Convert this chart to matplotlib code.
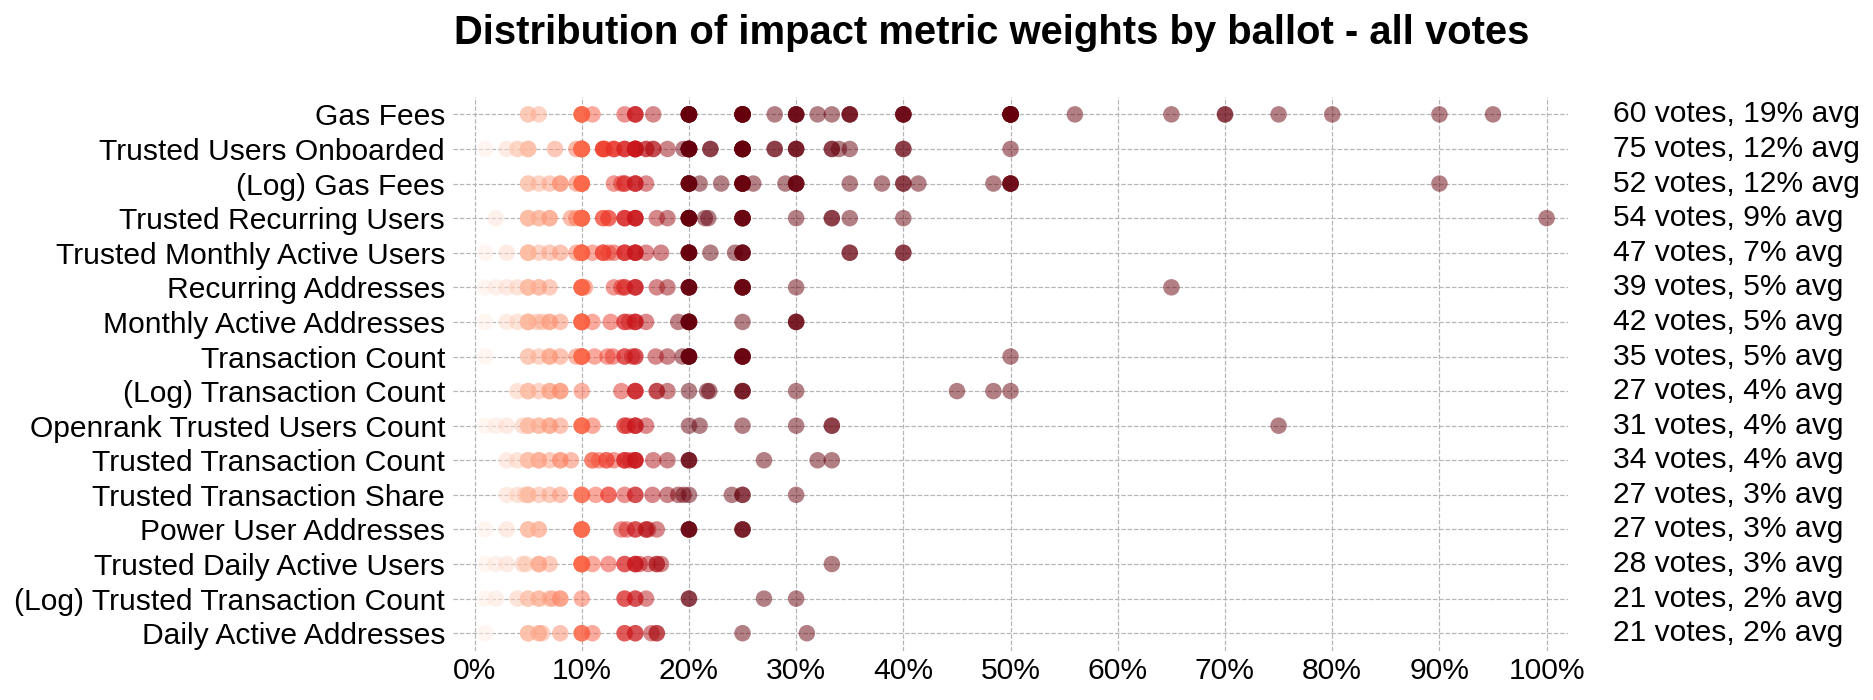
import matplotlib
matplotlib.use("Agg")
import matplotlib.pyplot as plt
from matplotlib.colors import Normalize
from matplotlib.ticker import PercentFormatter

plt.rcParams['font.family'] = ['Liberation Sans', 'DejaVu Sans']

# metric names, top to bottom
metrics = [
    'Gas Fees', 'Trusted Users Onboarded', '(Log) Gas Fees', 'Trusted Recurring Users',
    'Trusted Monthly Active Users', 'Recurring Addresses', 'Monthly Active Addresses',
    'Transaction Count', '(Log) Transaction Count', 'Openrank Trusted Users Count',
    'Trusted Transaction Count', 'Trusted Transaction Share', 'Power User Addresses',
    'Trusted Daily Active Users', '(Log) Trusted Transaction Count', 'Daily Active Addresses',
]

# average weight over all ballots (%), as printed on the right
avg_pct = [19, 12, 12, 9, 7, 5, 5, 5, 4, 4, 4, 3, 3, 3, 2, 2]

# weights (%) given on each ballot that voted for the metric
gas_fees = [5, 5, 6, 10, 10, 10, 10, 10, 11, 14, 15, 15, 15, 16.67,
            20, 20, 20, 20, 20, 20, 20, 20, 25, 25, 25, 25, 25, 25, 25, 25,
            28, 30, 30, 30, 30, 32, 33.33, 35, 35, 35, 40, 40, 40, 40,
            50, 50, 50, 50, 50, 50, 50, 50, 56, 65, 70, 70, 75, 80, 90, 95]
trusted_users_onboarded = [1, 3, 4, 4, 5, 5, 5, 7.5, 9.5,
                           10, 10, 10, 10, 10, 10, 10, 10, 10, 12, 12, 12, 12, 12.2,
                           13, 13, 13, 14, 14, 14, 15, 15, 15, 15, 15, 15, 15, 15,
                           16, 16, 16.67, 16.67, 18, 19.5,
                           20, 20, 20, 20, 20, 20, 20, 20, 20, 20, 22, 22,
                           25, 25, 25, 25, 25, 25, 25, 25, 28, 28, 30, 30, 30,
                           33.33, 33.33, 34, 35, 40, 40, 50]
log_gas_fees = [5, 5, 6, 7, 8, 8, 9.5, 10, 10, 10, 10, 10, 10, 13, 13.7, 14, 14,
                15, 15, 15, 16, 20, 20, 20, 20, 20, 20, 21, 23,
                25, 25, 25, 25, 25, 25, 26, 29, 30, 30, 30, 30, 35, 38, 40, 40,
                41.4, 48.4, 50, 50, 50, 50, 90]
trusted_recurring_users = [2, 5, 5, 5, 5, 6, 6, 7, 7, 9, 9.5,
                           10, 10, 10, 10, 10, 10, 10, 10, 10, 12, 12, 12.5, 12.5,
                           14, 14, 14, 15, 15, 15, 15, 17, 18,
                           20, 20, 20, 20, 20, 20, 20, 20, 21.5, 21.8,
                           25, 25, 25, 25, 25, 30, 33.33, 33.33, 35, 40, 100]
trusted_monthly_active_users = [1, 3, 5, 5, 5, 5, 6, 7, 8, 9.5,
                                10, 10, 10, 10, 10, 10, 11, 12, 12, 12, 12.5, 13,
                                14, 14, 14, 15, 15, 15, 15, 16, 17.4,
                                20, 20, 20, 20, 20, 20, 22, 24.3, 25, 25, 25, 25,
                                35, 35, 40, 40]
recurring_addresses = [1, 2, 3, 4, 5, 5, 5, 5, 6, 6, 7,
                       10, 10, 10, 10, 10, 10, 10.3, 13, 13.7, 14, 14, 15, 15, 15,
                       17, 18, 20, 20, 20, 20, 20, 25, 25, 25, 25, 25, 30, 65]
monthly_active_addresses = [1, 3, 4, 5, 5, 5, 5, 5, 5.8, 6.3, 7, 7, 8,
                            10, 10, 10, 10, 10, 10, 10, 10, 11, 12.7, 14, 14, 14.4,
                            15, 15, 15, 16, 19, 20, 20, 20, 20, 20, 20, 20,
                            25, 30, 30, 30]
transaction_count = [1, 5, 5, 6, 7, 7, 8, 9.5, 10, 10, 10, 10, 10,
                     11.2, 12.4, 12.9, 14, 14, 14.7, 15, 15, 16.9, 18, 19.4,
                     20, 20, 20, 20, 20, 25, 25, 25, 25, 25, 50]
log_transaction_count = [4, 5, 5, 5, 6, 7, 7, 8, 8, 10, 13.7, 15, 15, 15,
                         17, 17, 18, 20, 21.7, 21.9, 25, 25, 25, 30, 45, 48.4, 50]
openrank_trusted_users_count = [1, 2, 3, 4.5, 5, 5, 5, 6, 6, 7, 7, 8,
                                10, 10, 10, 10, 11, 14, 14, 14.3, 15, 15, 15, 16,
                                20, 21, 25, 30, 33.33, 33.33, 75]
trusted_transaction_count = [3, 4, 5, 5, 5, 6, 6, 6, 7, 8, 8, 9, 11, 11, 11.6,
                             12.3, 12.3, 13, 14, 14, 14, 14.5, 15, 15, 15, 15,
                             16.67, 18, 20, 20, 20, 27, 32, 33.33]
trusted_transaction_share = [3, 4, 4.7, 5, 5, 5, 6, 7, 8, 10, 10, 10, 11.3,
                             12.5, 12.5, 14, 15, 15, 16.6, 18, 19, 19.5, 20, 24,
                             25, 25, 30]
power_user_addresses = [1, 3, 5, 5, 5, 6, 6, 10, 10, 10, 10, 10, 13.7, 14.2,
                        15, 15, 16, 16, 16.2, 17, 20, 20, 20, 20, 25, 25, 25]
trusted_daily_active_users = [1, 2, 3, 4.5, 4.8, 6, 6, 6, 7, 10, 10, 10, 10, 10, 10,
                              11, 12.5, 14, 14, 15, 15, 15, 15.4, 16.2, 17, 17,
                              17.4, 33.33]
log_trusted_transaction_count = [1, 2, 4, 5, 5, 6, 6, 7, 7.3, 8, 8, 10, 14, 14,
                                 15, 15, 16, 20, 20, 27, 30]
daily_active_addresses = [1, 5, 5, 5, 6, 6, 6.3, 8, 10, 10, 10, 11, 14, 14,
                          15, 15, 16.5, 17, 17, 25, 31]

weights = [
    gas_fees, trusted_users_onboarded, log_gas_fees, trusted_recurring_users,
    trusted_monthly_active_users, recurring_addresses, monthly_active_addresses,
    transaction_count, log_transaction_count, openrank_trusted_users_count,
    trusted_transaction_count, trusted_transaction_share, power_user_addresses,
    trusted_daily_active_users, log_trusted_transaction_count, daily_active_addresses,
]

fig = plt.figure(figsize=(1873 / 144, 700 / 144), dpi=144)
ax = fig.add_axes([0.2419, 0.0707, 0.5953, 0.7906])

norm = Normalize(vmin=0, vmax=20)
for i, vals in enumerate(weights):
    ax.scatter(vals, [i] * len(vals), c=vals, cmap='Reds', norm=norm,
               s=68, alpha=0.5, linewidths=0, zorder=3)
    # vote count + average on the right
    ax.text(1.04, i, f"{len(vals)} votes, {avg_pct[i]}% avg",
            transform=ax.get_yaxis_transform(), ha='left', va='center',
            fontsize=15)

ax.set_yticks(range(len(metrics)))
ax.set_yticklabels(metrics)
ax.set_ylim(len(metrics) - 0.5, -0.5)
ax.set_xlim(-2, 102)
ax.set_xticks(range(0, 101, 10))
ax.xaxis.set_major_formatter(PercentFormatter(100, decimals=0))
ax.tick_params(axis='both', length=0, labelsize=15)
ax.tick_params(axis='y', pad=4)
ax.tick_params(axis='x', pad=3)

for s in ax.spines.values():
    s.set_visible(False)
ax.grid(True, linestyle='--', linewidth=0.6, color='#b5b5b5')
ax.set_axisbelow(True)

fig.text(0.5294, 1 - 44 / 700, 'Distribution of impact metric weights by ballot - all votes',
         ha='center', va='baseline', fontsize=20, fontweight='bold')

fig.savefig('out.png', dpi=144, facecolor='white')
